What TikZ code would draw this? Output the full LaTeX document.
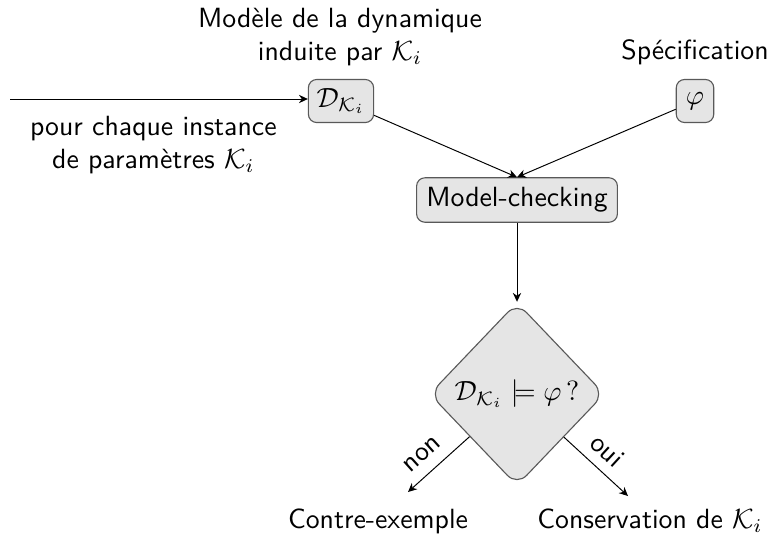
\documentclass[tikz,border=0pt]{standalone}
\usetikzlibrary{shapes.geometric,arrows.meta}
\begin{document}
\begin{tikzpicture}[x=0.36pt,y=-0.36pt,font=\sffamily,
  box/.style={draw=black!65,fill=black!10,rounded corners=3pt,inner sep=3pt,minimum height=15.5pt},
  dec/.style={draw=black!65,fill=black!10,diamond,rounded corners=5pt,minimum width=63pt,minimum height=66pt,inner sep=0pt},
  conn/.style={-{Stealth[length=3.2pt,width=3pt]},line width=0.35pt},
  lbl/.style={align=center,inner sep=0pt}]
\useasboundingbox (0,0) rectangle (772,536);
\node[box] (D) at (341,101) {$\mathcal{D}_{\mathcal{K}_i}$};
\node[box,minimum width=13.5pt] (P) at (695,101) {$\varphi$};
\node[box,minimum height=16pt,inner xsep=3.5pt] (M) at (517,200) {Model-checking};
\node[dec] (Q) at (517,394) {$\mathcal{D}_{\mathcal{K}_i}\models\varphi\,?$};
\node[lbl] (TD) at (340,37) {Modèle de la dynamique\\ induite par $\mathcal{K}_i$};
\node[lbl] (TP) at (695,52) {Spécification};
\node[lbl] (C) at (378,521) {Contre-exemple};
\node[lbl] (K) at (650,521) {Conservation de $\mathcal{K}_i$};
\coordinate (S) at (10,99);
\coordinate (cn) at (408,492);
\coordinate (ko) at (628,496);
\draw[conn] (S) -- node[below,lbl,yshift=-6pt,xshift=-2pt] {pour chaque instance\\ de paramètres $\mathcal{K}_i$} (D.west |- S);
\draw[conn] (D) -- (M.north);
\draw[conn] (P) -- (M.north);
\draw[conn] (M) -- (Q);
\draw[conn] (Q) -- node[pos=0.57,above,sloped,inner sep=4pt] {non} (cn);
\draw[conn] (Q) -- node[pos=0.47,above,sloped,inner sep=3.5pt] {oui} (ko);
\end{tikzpicture}
\end{document}
